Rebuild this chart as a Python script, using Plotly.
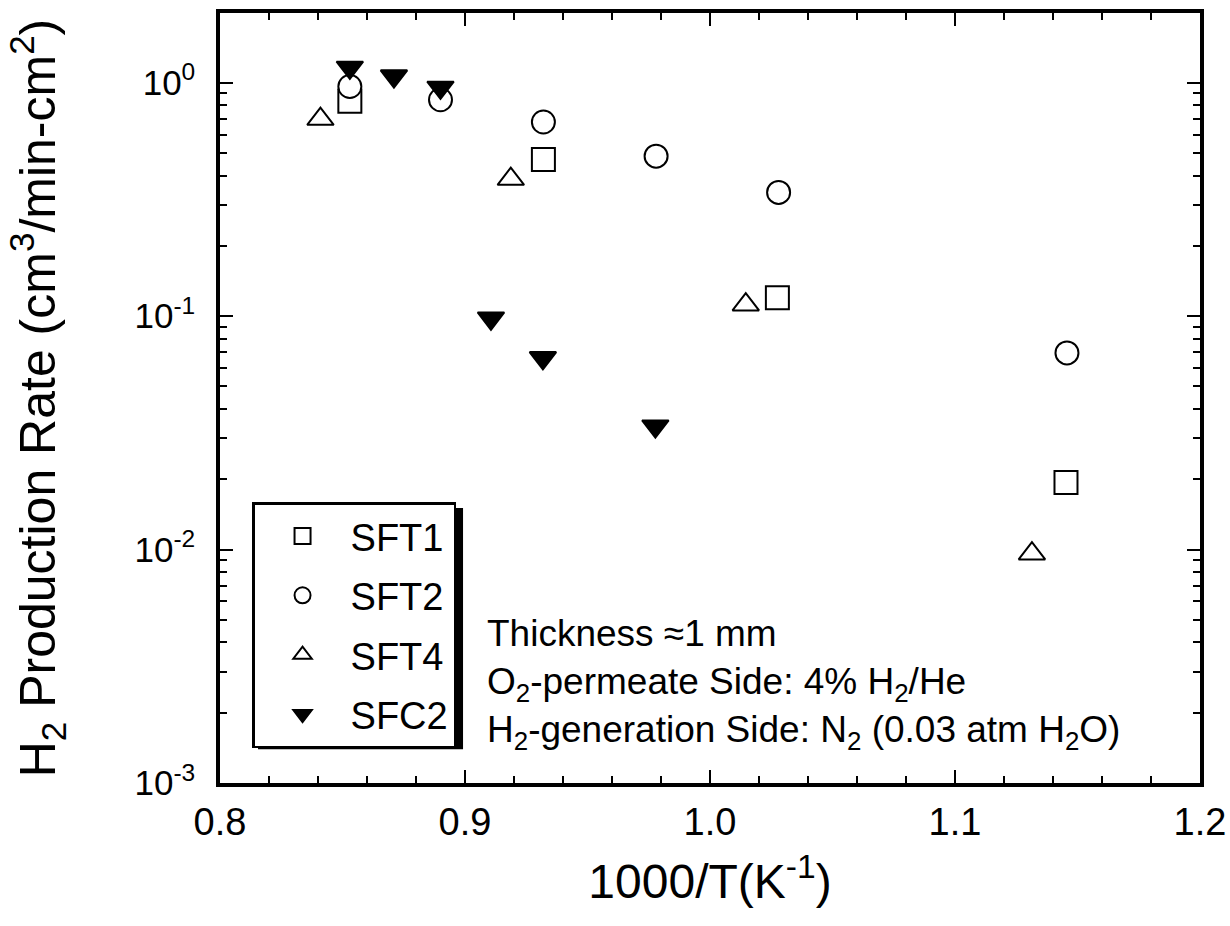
import plotly.graph_objects as go

# ---- data ----
sft1_x = [0.853, 0.932, 1.0275, 1.1453]
sft1_y = [0.833, 0.469, 0.120, 0.0194]

sft2_x = [0.853, 0.890, 0.932, 0.978, 1.028, 1.1457]
sft2_y = [0.964, 0.846, 0.679, 0.485, 0.339, 0.0696]

sft4_x = [0.841, 0.9187, 1.0146, 1.1314]
sft4_y = [0.699, 0.387, 0.112, 0.0096]

sfc2_x = [0.853, 0.871, 0.890, 0.9106, 0.9318, 0.9777]
sfc2_y = [1.163, 1.068, 0.955, 0.098, 0.0663, 0.0338]

y_tickvals = [0.001, 0.01, 0.1, 1]
y_ticktext = ["10<sup>-3</sup>", "10<sup>-2</sup>", "10<sup>-1</sup>", "10<sup>0</sup>"]
x_tickvals = [0.8, 0.9, 1.0, 1.1, 1.2]
x_ticktext = ["0.8", "0.9", "1.0", "1.1", "1.2"]

FONT = "Liberation Sans, Arial, Helvetica, sans-serif"

fig = go.Figure()

def add(name, x, y, symbol, fill, rank, size=23):
    fig.add_trace(go.Scatter(
        x=x, y=y, mode="markers", name=name, legendrank=rank, legendgroup=name,
        marker=dict(symbol=symbol, size=size, color=fill,
                    line=dict(color="black", width=2)),
    ))

add("SFT1", sft1_x, sft1_y, "square", "white", 1)
add("SFT4", sft4_x, sft4_y, "triangle-up", "white", 3, 23)
add("SFT2", sft2_x, sft2_y, "circle", "white", 2)
add("SFC2", sfc2_x, sfc2_y, "triangle-down", "black", 4, 23)

axis_common = dict(
    showline=True, linecolor="black", linewidth=3.5, mirror="allticks",
    ticks="inside", tickcolor="black", tickwidth=2, showgrid=False,
    zeroline=False, automargin=False,
)

fig.update_xaxes(
    **axis_common, range=[0.8, 1.2], tickvals=x_tickvals, ticktext=x_ticktext,
    tickfont=dict(family=FONT, size=38, color="black"),
    ticklen=13, ticklabelstandoff=3,
    minor=dict(dtick=0.02, ticks="inside", ticklen=7, tickwidth=2, tickcolor="black"),
    title=dict(text="1000/T(K<sup>-1</sup>)", font=dict(family=FONT, size=48, color="black"),
               standoff=23),
)
fig.update_yaxes(
    **axis_common, type="log", range=[-3, 0.299], tickvals=y_tickvals, ticktext=y_ticktext,
    tickfont=dict(family=FONT, size=35, color="black"),
    ticklen=13, ticklabelstandoff=14,
    minor=dict(dtick="D1", ticks="inside", ticklen=7, tickwidth=2, tickcolor="black"),
    title=dict(text="H<sub>2</sub> Production Rate (cm<sup>3</sup>/min-cm<sup>2</sup>)",
               font=dict(family=FONT, size=50, color="black"), standoff=64),
)

fig.add_annotation(
    xref="paper", yref="paper", x=0.27, y=0.224, xanchor="left", yanchor="top",
    align="left", showarrow=False,
    text="Thickness ≈1 mm<br>O<sub>2</sub>-permeate Side: 4% H<sub>2</sub>/He<br>"
         "H<sub>2</sub>-generation Side: N<sub>2</sub> (0.03 atm H<sub>2</sub>O)",
    font=dict(family=FONT, size=37, color="black"),
)

# legend shadow
fig.add_shape(type="rect", xref="paper", yref="paper",
              x0=0.0388, x1=0.248, y0=0.0438, y1=0.357,
              fillcolor="black", line=dict(width=0), layer="below")

fig.update_layout(
    width=1230, height=926,
    margin=dict(l=220, r=30, t=13, b=143),
    paper_bgcolor="white", plot_bgcolor="white",
    showlegend=True,
    legend=dict(x=0.0327, y=0.3647, xanchor="left", yanchor="top",
                bgcolor="white", bordercolor="black", borderwidth=2.5,
                font=dict(family=FONT, size=38, color="black"),
                itemsizing="trace", itemwidth=86,
                traceorder="grouped", tracegroupgap=7),
)

fig.write_html("out.html")
